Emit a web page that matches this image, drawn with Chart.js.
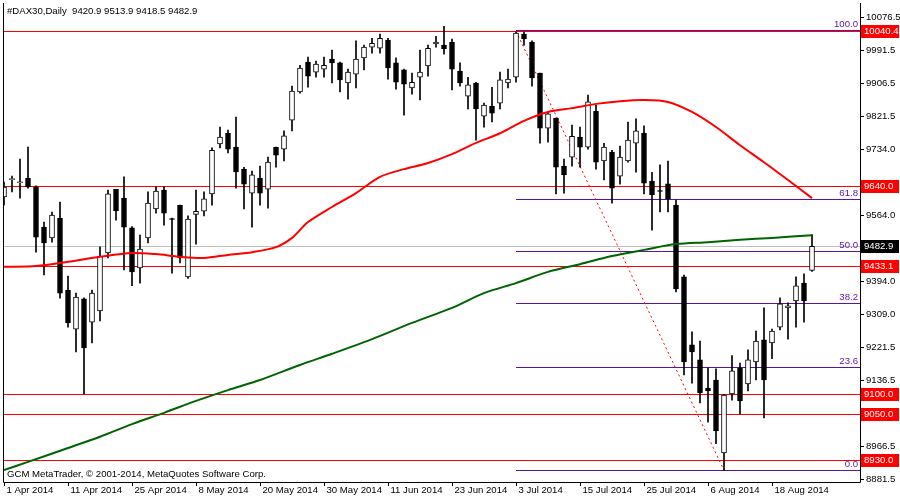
<!DOCTYPE html>
<html><head><meta charset="utf-8">
<script src="https://cdn.jsdelivr.net/npm/chart.js@4"></script>
<style>html,body{margin:0;padding:0;background:#fff}#wrap{width:900px;height:500px}</style>
</head><body><div id="wrap"><canvas id="c" width="900" height="500"></canvas></div>
<script>
// Candles: open, high, low, close (index = trading day from 1 Apr 2014)
const opens  = [9610.8,9657,9649,9660,9637,9533,9505,9556,9370,9269,9347,9287,9316,9466,9631,9608,9531,9427,9505,9580,9629,9555,9590,9404,9566,9574,9619,9748,9776,9740,9683,9621,9660,9631,9740,9735,9810,9883,9960,9934,9942,9968,9958,9906,9929,9971,9999,9996,10017,9958,9940,9893,9921,9950,10007,10004,10012,9937,9872,9906,9820,9846,9854,9906,9921,10033,10012,9932,9789,9815,9691,9714,9766,9740,9833,9704,9727,9665,9704,9750,9776,9652,9627,9645,9590,9404,9228,9189,9116,9137,8948,9101,9168,9127,9184,9241,9233,9274,9324,9342,9388,9420.9];
const highs  = [9649.6,9665,9709,9740,9640,9546,9572,9598,9406,9362,9350,9370,9482,9629,9631,9663,9534,9512,9624,9637,9637,9556,9590,9562,9629,9624,9738,9792,9784,9818,9688,9678,9691,9714,9740,9782,9898,9952,9973,9963,9973,9991,9960,9942,10015,10004,10022,10033,10022,9971,9942,9932,9991,10004,10027,10053,10020,9958,9921,9908,9854,9895,9934,9942,10038,10038,10015,9932,9831,9815,9709,9797,9792,9875,9849,9750,9732,9743,9805,9813,9795,9675,9694,9704,9603,9409,9262,9238,9168,9166,9100,9200,9181,9215,9264,9324,9269,9350,9337,9404,9412,9513.9];
const lows   = [9590,9624,9608,9634,9468,9409,9494,9349,9274,9210,9101,9233,9290,9453,9551,9422,9381,9388,9492,9569,9538,9414,9440,9400,9489,9562,9590,9738,9725,9634,9580,9533,9590,9582,9688,9704,9782,9880,9895,9921,9921,9906,9883,9864,9893,9940,9983,9983,9916,9890,9823,9877,9862,9924,9999,9981,9888,9898,9839,9758,9792,9805,9839,9893,9908,10004,9898,9750,9753,9619,9621,9691,9688,9735,9683,9655,9595,9644,9701,9675,9619,9525,9572,9572,9365,9150,9129,9078,9028,8972,8903,9085,9049,9109,9137,9039,9192,9267,9243,9274,9287,9418.5];
const closes = [9636.7,9657,9649,9637,9507,9492,9564,9362,9285,9352,9220,9362,9458,9619,9575,9533,9417,9476,9595,9626,9569,9553,9453,9554,9574,9606,9732,9766,9735,9676,9644,9668,9621,9701,9719,9769,9885,9945,9924,9955,9952,9958,9914,9934,9968,9999,10009,10022,9945,9908,9903,9908,9934,9996,10012,9994,9942,9906,9901,9839,9849,9828,9914,9916,10035,10020,9919,9789,9826,9688,9668,9768,9740,9857,9701,9740,9634,9714,9758,9782,9647,9616,9626,9606,9373,9184,9210,9104,9109,9005,9098,9161,9083,9189,9238,9137,9264,9334,9329,9381,9342,9482.9];
// Moving averages (index, value)
const redMaIdx = [0,4,8,12,16,19,22,25,28,31,34,36,38,41,44,47,50,53,56,59,62,65,68,71,74,77,80,83,86,89,92,95,98,101];
const redMa    = [9430,9432,9443,9456,9466,9463,9456,9453,9461,9468,9481,9505,9546,9585,9621,9663,9683,9699,9722,9751,9776,9808,9831,9841,9852,9859,9862,9857,9831,9792,9745,9701,9655,9608];
const greenMaIdx = [0,3,8,12,16,20,24,28,32,37,41,46,51,56,60,64,68,72,76,80,84,88,92,96,101];
const greenMa    = [8904,8925,8961,8990,9023,9052,9083,9111,9137,9176,9205,9243,9285,9324,9362,9388,9417,9437,9458,9474,9489,9494,9500,9505,9512];
// Horizontal levels
const redLevels = [10040.4,9640.0,9433.1,9100.0,9050.0,8930.0];
const lastPrice = 9482.9;
const fibLevels = [100.0,61.8,50.0,38.2,23.6,0.0];
const fibHigh = 10040.4, fibLow = 8903, fibStartIdx = 64, fibEndIdx = 90;
const yTicks = [10076.5,9991.5,9906.5,9821.5,9734.0,9564.0,9394.0,9309.0,9221.5,9136.5,8966.5,8881.5];
const xTickIdx = [0,8,16,24,32,40,48,56,64,72,80,88,96];
const xTickLabels = ["1 Apr 2014","11 Apr 2014","25 Apr 2014","8 May 2014","20 May 2014","30 May 2014","11 Jun 2014","23 Jun 2014","3 Jul 2014","15 Jul 2014","25 Jul 2014","6 Aug 2014","18 Aug 2014"];
const title = "#DAX30,Daily  9420.9 9513.9 9418.5 9482.9";
const footer = "GCM MetaTrader, © 2001-2014, MetaQuotes Software Corp.";

const FONT = '9.6px "Liberation Sans", Arial, sans-serif';
const FIB = '#5a14a0';
const wicks = opens.map((o,i)=>({x:i,y:[lows[i],highs[i]]}));
const bodies = opens.map((o,i)=>{let a=Math.min(o,closes[i]),b=Math.max(o,closes[i]);if(b-a<2.5){const m=(a+b)/2;a=m-1.3;b=m+1.3;}return {x:i,y:[a,b]};});
const bodyFill = opens.map((o,i)=>closes[i]>=o?'#ffffff':'#000000');

const overlay = {
  id:'overlay',
  beforeDatasetsDraw(ch){
    const {ctx,chartArea:a,scales:{x,y}}=ch;
    ctx.save();
    ctx.lineWidth=1;
    let py=Math.round(y.getPixelForValue(lastPrice))+0.5;
    ctx.strokeStyle='#c0c0c0';ctx.beginPath();ctx.moveTo(a.left,py);ctx.lineTo(a.right,py);ctx.stroke();
    ctx.strokeStyle='#ff0000';
    redLevels.forEach(v=>{const p=Math.round(y.getPixelForValue(v))+0.5;ctx.beginPath();ctx.moveTo(a.left,p);ctx.lineTo(a.right,p);ctx.stroke();});
    const fx=x.getPixelForValue(fibStartIdx);
    ctx.strokeStyle=FIB;ctx.fillStyle=FIB;ctx.font=FONT;ctx.textAlign='right';ctx.textBaseline='bottom';
    fibLevels.forEach(f=>{const v=fibLow+(fibHigh-fibLow)*f/100;let p=Math.round(y.getPixelForValue(v))+0.5;if(f===100)p-=1;ctx.beginPath();ctx.moveTo(fx,p);ctx.lineTo(a.right,p);ctx.stroke();ctx.fillText(f.toFixed(1),a.right-2,p-1);});
    ctx.strokeStyle='#ff0000';ctx.setLineDash([2,3]);ctx.beginPath();
    ctx.moveTo(fx,y.getPixelForValue(fibHigh));ctx.lineTo(x.getPixelForValue(fibEndIdx),y.getPixelForValue(fibLow));ctx.stroke();
    ctx.restore();
  },
  afterDraw(ch){
    const {ctx,chartArea:a,scales:{x,y}}=ch;
    ctx.save();
    ctx.strokeStyle='#000';ctx.lineWidth=1;
    ctx.beginPath();ctx.moveTo(a.left-0.5,a.top-2);ctx.lineTo(a.left-0.5,a.bottom+0.5);ctx.lineTo(a.right+0.5,a.bottom+0.5);ctx.lineTo(a.right+0.5,a.top-2);ctx.stroke();
    ctx.font=FONT;ctx.fillStyle='#000';ctx.textBaseline='middle';ctx.textAlign='left';
    yTicks.forEach(v=>{const p=Math.round(y.getPixelForValue(v))+0.5;ctx.beginPath();ctx.moveTo(a.right,p);ctx.lineTo(a.right+4,p);ctx.stroke();ctx.fillText(v.toFixed(1),a.right+6,p);});
    const box=(v,bg)=>{const p=Math.round(y.getPixelForValue(v));ctx.fillStyle=bg;ctx.fillRect(a.right+1,p-6,38,13);ctx.fillStyle='#fff';ctx.fillText(v.toFixed(1),a.right+4,p+0.5);};
    redLevels.forEach(v=>box(v,'#ff0000'));
    box(lastPrice,'#000000');
    ctx.fillStyle='#000';ctx.textBaseline='top';
    xTickIdx.forEach((i,k)=>{const px=Math.round(x.getPixelForValue(i))+0.5;ctx.beginPath();ctx.moveTo(px,a.bottom);ctx.lineTo(px,a.bottom+4);ctx.stroke();ctx.fillText(xTickLabels[k],px+2,a.bottom+4);});
    ctx.textBaseline='middle';
    ctx.fillText(title,7,11);
    ctx.fillText(footer,7,474);
    ctx.restore();
  }
};

new Chart(document.getElementById('c'),{
  data:{datasets:[
    {type:'line',data:redMaIdx.map((v,i)=>({x:v,y:redMa[i]})),borderColor:'#ff0000',borderWidth:2,pointRadius:0,tension:0.3,order:1},
    {type:'line',data:greenMaIdx.map((v,i)=>({x:v,y:greenMa[i]})),borderColor:'#006400',borderWidth:2,pointRadius:0,tension:0.3,order:1},
    {type:'bar',data:bodies,backgroundColor:bodyFill,borderColor:'#000',borderWidth:1,borderSkipped:false,barThickness:5,grouped:false,order:2},
    {type:'bar',data:wicks,backgroundColor:'#000',borderWidth:0,barThickness:1,grouped:false,order:3}
  ]},
  options:{
    responsive:false,animation:false,devicePixelRatio:1,
    layout:{padding:{left:4,top:5,right:40,bottom:18}},
    plugins:{legend:{display:false},tooltip:{enabled:false}},
    scales:{
      x:{type:'linear',min:0,max:107,display:false,offset:false},
      y:{type:'linear',min:8873,max:10108,display:false}
    }
  },
  plugins:[overlay]
});
</script></body></html>
